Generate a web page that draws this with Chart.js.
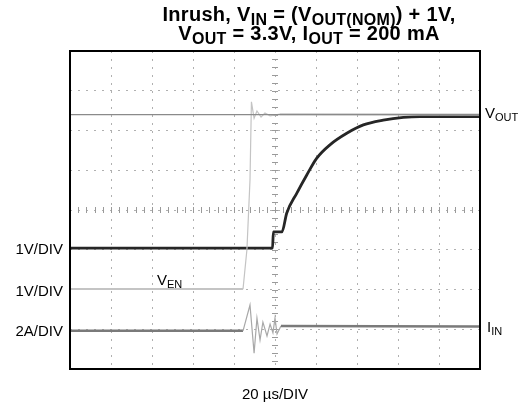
<!DOCTYPE html>
<html>
<head>
<meta charset="utf-8">
<script src="https://cdn.jsdelivr.net/npm/chart.js@4.4.1/dist/chart.umd.min.js"></script>
<style>
  html, body { margin:0; padding:0; background:#fff; }
  #wrap { position:relative; width:521px; height:404px; overflow:hidden; font-family:"Liberation Sans", Arial, sans-serif; color:#000; }
  #c { position:absolute; left:0; top:0; }
  .t { position:absolute; white-space:nowrap; line-height:1; }
  .title { font-weight:bold; font-size:20px; transform:translateX(-50%); letter-spacing:0.3px; }
  .title sub { font-size:16px; vertical-align:-4px; line-height:0; }
  .lab { font-size:15px; }
  .lab sub { font-size:11px; vertical-align:-3px; line-height:0; }
  .right { transform:translateX(-100%); }
  .center { transform:translateX(-50%); }
</style>
</head>
<body>
<div id="wrap">
  <canvas id="c" width="521" height="404"></canvas>
  <div class="t title" style="left:309px; top:4px;">Inrush, V<sub>IN</sub> = (V<sub>OUT(NOM)</sub>) + 1V,</div>
  <div class="t title" style="left:309px; top:23px;">V<sub>OUT</sub> = 3.3V, I<sub>OUT</sub> = 200 mA</div>
  <div class="t lab right" style="left:63px; top:241px;">1V/DIV</div>
  <div class="t lab right" style="left:63px; top:283px;">1V/DIV</div>
  <div class="t lab right" style="left:63px; top:323px;">2A/DIV</div>
  <div class="t lab" style="left:157px; top:272px;">V<sub>EN</sub></div>
  <div class="t lab" style="left:485px; top:105px;">V<sub>OUT</sub></div>
  <div class="t lab" style="left:487px; top:319px;">I<sub>IN</sub></div>
  <div class="t lab center" style="left:275px; top:386px;">20 µs/DIV</div>
</div>
<script>
// Time axis in microseconds (20 us/div, 10 div), vertical in scope divisions (8 div)
const xDivisions = [0, 200];
const yDivisions = [0, 8];

// Reference/VIN trace (thin gray line)
const refTime  = [0, 200];
const refLevel = [6.40, 6.40];

// VOUT (dark trace)
const voutTime  = [0, 98.8, 99.2, 103.4, 105.7, 110.6, 115.5, 120.3, 126.8, 135.0, 143.1, 152.8, 162.6, 170.7, 200];
const voutLevel = [3.04, 3.04, 3.45, 3.45, 3.92, 4.42, 4.88, 5.30, 5.64, 5.93, 6.14, 6.26, 6.33, 6.35, 6.35];

// VEN (light gray trace)
const venTime  = [0, 84.4, 86.3, 87.8, 88.5, 89.8, 91.2, 93.2, 95.1, 97.6, 102.4, 200];
const venLevel = [2.01, 2.01, 3.0, 4.75, 6.72, 6.31, 6.49, 6.34, 6.44, 6.37, 6.41, 6.40];

// IIN (gray trace)
const iinTime  = [0, 84.4, 87.8, 89.8, 91.2, 92.7, 94.1, 96.1, 97.6, 99.0, 100.0, 101.0, 102.9, 200];
const iinLevel = [0.96, 0.96, 1.61, 0.40, 1.28, 0.73, 1.18, 0.83, 1.13, 0.91, 1.28, 0.88, 1.08, 1.07];

function pts(xs, ys) { return xs.map((x, i) => ({ x: x, y: ys[i] })); }

const frame = {
  id: 'frame',
  beforeDatasetsDraw(chart) {
    const { ctx, scales: { x, y } } = chart;
    ctx.save();
    ctx.strokeStyle = '#9a9a9a';
    ctx.lineWidth = 1;
    const cx = x.getPixelForValue(100);
    const cy = y.getPixelForValue(4);
    ctx.beginPath();
    for (let v = 0; v <= 8.001; v += 0.2) {
      const py = Math.round(y.getPixelForValue(v)) + 0.5;
      ctx.moveTo(cx - 3, py); ctx.lineTo(cx + 3, py);
    }
    for (let t = 0; t <= 200.001; t += 4) {
      const px = Math.round(x.getPixelForValue(t)) + 0.5;
      ctx.moveTo(px, cy - 3); ctx.lineTo(px, cy + 3);
    }
    ctx.stroke();
    ctx.restore();
  },
  afterDraw(chart) {
    const { ctx, chartArea: a } = chart;
    ctx.save();
    ctx.strokeStyle = '#000';
    ctx.lineWidth = 2;
    ctx.strokeRect(a.left, a.top, a.right - a.left, a.bottom - a.top);
    ctx.restore();
  }
};

const gridStyle = { drawTicks: false, color: '#b0b0b0', lineWidth: 1 };
// ringing part of the current trace is drawn lighter and thinner
const ringing = (ctx) => (ctx.p0.parsed.x >= 84.4 && ctx.p1.parsed.x <= 102.9);

new Chart(document.getElementById('c'), {
  type: 'line',
  data: {
    datasets: [
      { data: pts(refTime, refLevel), borderColor: '#8a8a8a', borderWidth: 1.2 },
      { data: pts(venTime, venLevel), borderColor: '#c4c4c4', borderWidth: 2,
        segment: { borderWidth: c => (c.p0.parsed.x >= 84.4 && c.p1.parsed.x <= 102.4) ? 1.2 : 2 } },
      { data: pts(iinTime, iinLevel), borderColor: '#7a7a7a', borderWidth: 2.5,
        segment: { borderColor: c => ringing(c) ? '#a8a8a8' : '#7a7a7a', borderWidth: c => ringing(c) ? 1.2 : 2.5 } },
      { data: pts(voutTime, voutLevel), borderColor: '#262626', borderWidth: 2.8, cubicInterpolationMode: 'monotone' }
    ]
  },
  options: {
    responsive: false,
    animation: false,
    devicePixelRatio: 1,
    layout: { padding: { left: 70, right: 41, top: 51, bottom: 35 } },
    plugins: { legend: { display: false }, tooltip: { enabled: false }, title: { display: false } },
    elements: { point: { radius: 0 }, line: { tension: 0 } },
    scales: {
      x: { type: 'linear', min: xDivisions[0], max: xDivisions[1], ticks: { display: false, stepSize: 20 }, grid: gridStyle, border: { display: false, dash: [2, 6] } },
      y: { type: 'linear', min: yDivisions[0], max: yDivisions[1], ticks: { display: false, stepSize: 1 }, grid: gridStyle, border: { display: false, dash: [2, 6] } }
    }
  },
  plugins: [frame]
});
</script>
</body>
</html>
